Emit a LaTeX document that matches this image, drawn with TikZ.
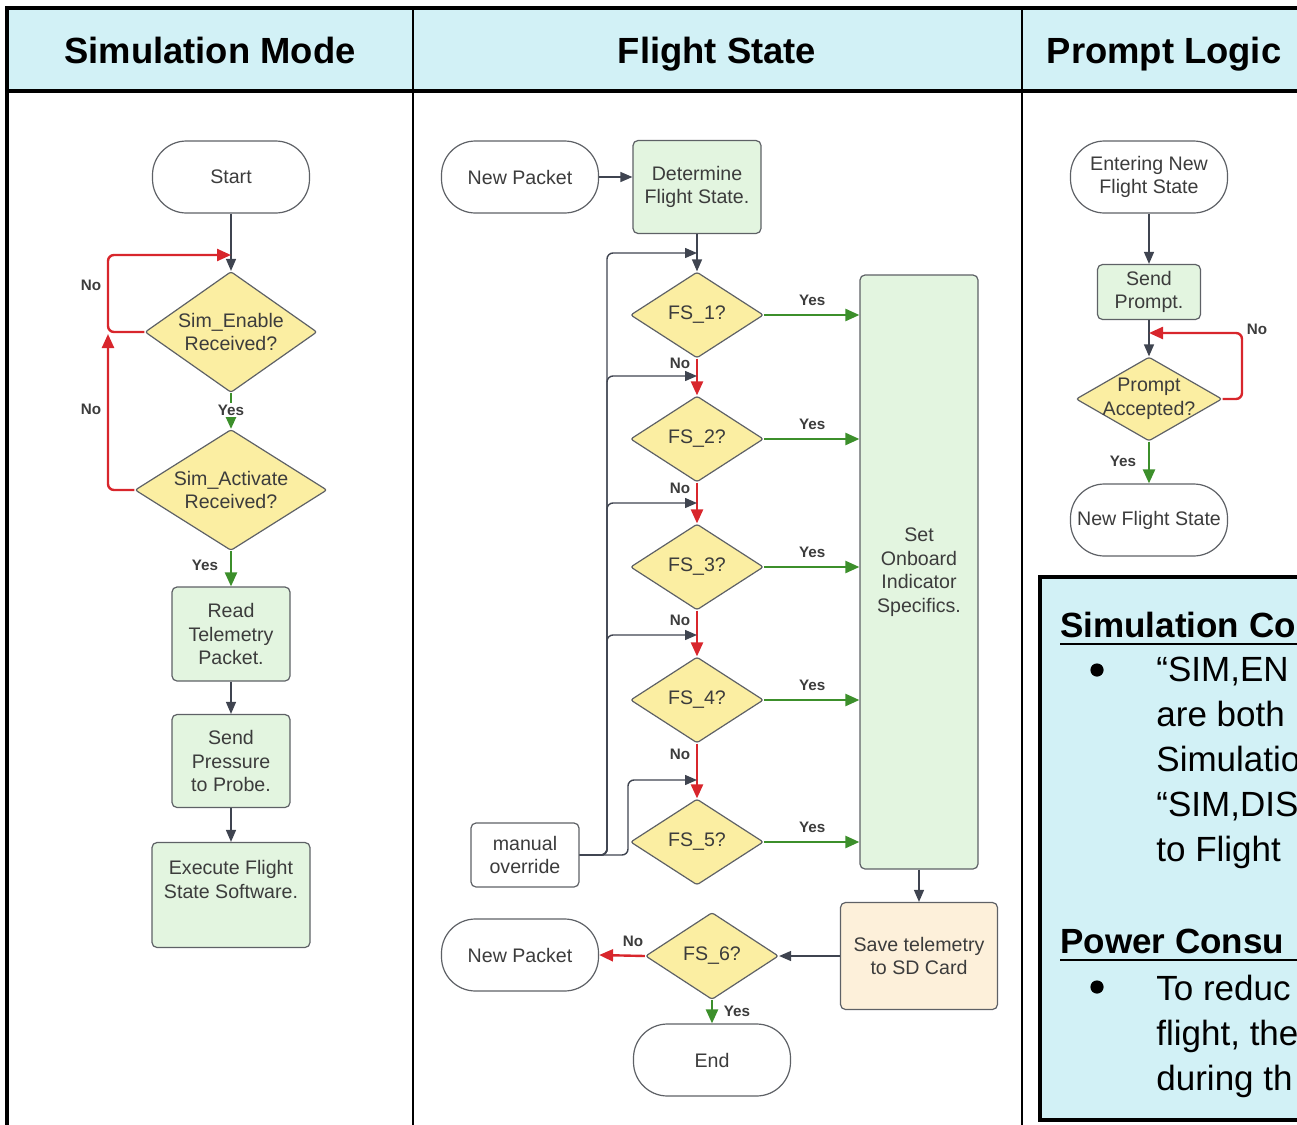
\documentclass[tikz,border=0pt]{standalone}
\usepackage{fontspec}
\setmainfont{Liberation Sans}
\usetikzlibrary{shapes.geometric,arrows.meta}
\definecolor{hdr}{HTML}{D2F1F6}
\definecolor{procfill}{HTML}{E3F5E0}
\definecolor{decfill}{HTML}{FBEEA2}
\definecolor{savefill}{HTML}{FDF0DA}
\definecolor{redl}{HTML}{D8262C}
\definecolor{greenl}{HTML}{3C8F2B}
\definecolor{grayl}{HTML}{3F4450}
\definecolor{txt}{HTML}{3C3C3C}
\definecolor{bord}{HTML}{5E6166}
\tikzset{
  ntext/.style={font=\fontsize{9.8}{11.8}\selectfont, text=txt, align=center},
  term/.style={ntext, draw=bord, line width=0.6pt, rounded corners=17pt, minimum width=78.5pt, minimum height=36pt, fill=white, inner sep=1pt},
  proc/.style={ntext, draw=bord, line width=0.6pt, rounded corners=2.5pt, fill=procfill, inner sep=1pt},
  dia/.style={shape=diamond, draw=bord, line width=0.6pt, fill=decfill, inner sep=0pt, rounded corners=1.2pt},
  garrow/.style={draw=grayl, line width=0.7pt, -{Triangle[length=6pt,width=5pt]}},
  rarrow/.style={draw=redl, line width=1.2pt, -{Triangle[length=7pt,width=6pt]}},
  yarrow/.style={draw=greenl, line width=1.2pt, -{Triangle[length=7pt,width=6pt]}},
  lbl/.style={font=\bfseries\fontsize{7.6}{9}\selectfont, text=txt, inner sep=1pt},
  head/.style={font=\bfseries\fontsize{18.2}{22}\selectfont, text=black, anchor=base},
  note/.style={font=\fontsize{17.5}{22.5}\selectfont, text=black, anchor=base west, inner sep=0pt},
  noteh/.style={font=\bfseries\fontsize{17.5}{22.5}\selectfont, text=black, anchor=base west, inner sep=0pt},
}
\begin{document}
\begin{tikzpicture}[x=0.5pt,y=-0.5pt]
\useasboundingbox (0,0) rectangle (1297,1125);
\begin{scope}
\clip (0,0) rectangle (1297,1125);
% table
\fill[hdr] (7,8) rectangle (1310,91);
\draw[line width=2pt] (1310,8) -- (7,8) -- (7,1140);
\draw[line width=1.6pt] (7,91) -- (1310,91);
\draw[line width=1.3pt] (413,8) -- (413,1140);
\draw[line width=1.3pt] (1022,8) -- (1022,1140);
\node[head] (h1) at (210,63) {Simulation Mode};
\node[head] (h2) at (717,63) {Flight State};
\node[head] (h3) at (1164,63) {Prompt Logic};

% ---- Simulation Mode ----
\node[term] (start) at (231,177) {Start};
\node[dia, minimum width=86pt, minimum height=60.5pt] (se) at (231,332) {};
\node[ntext] (set1) at (se.center) {Sim\_Enable\\Received?};
\node[dia, minimum width=96pt, minimum height=60.5pt] (sa) at (231,490) {};
\node[ntext] (sat) at (sa.center) {Sim\_Activate\\Received?};
\node[proc, minimum width=59pt, minimum height=47pt] (read) at (231,634) {Read\\Telemetry\\Packet.};
\node[proc, minimum width=59pt, minimum height=46.5pt] (send) at (231,761) {Send\\Pressure\\to Probe.};
\node[proc, minimum width=79pt, minimum height=52.5pt] (exec) at (231,895) {Execute Flight\\State Software.\\[4pt]};
\coordinate (j1) at (231,255);
\coordinate (j2) at (108,334);
\draw[garrow] (start.south) -- (se.north);
\draw[rarrow, rounded corners=3pt] (se.west) -- (108,332) -- (108,255) -- (j1);
\draw[rarrow, rounded corners=3pt] (sa.west) -- (108,490) -- (j2);
\draw[yarrow] (se.south) -- (sa.north);
\draw[yarrow] (sa.south) -- (read.north);
\draw[garrow] (read.south) -- (send.north);
\draw[garrow] (send.south) -- (exec.north);
\node[lbl] (l1) at (91,285) {No};
\node[lbl] (l2) at (91,409) {No};
\node[lbl, fill=white] (l3) at (231,410) {Yes};
\node[lbl] (l4) at (205,565) {Yes};

% ---- Flight State ----
\node[term] (np1) at (520,177) {New Packet};
\node[proc, minimum width=64pt, minimum height=46.5pt] (det) at (697,187) {Determine\\Flight State.};
\foreach \i/\y in {1/315,2/439,3/567,4/700,5/842}{
  \node[dia, minimum width=66.5pt, minimum height=43pt] (fs\i) at (697,\y) {};
  \node[ntext] (fst\i) at (fs\i.center) {FS\_\i?};
}
\node[proc, minimum width=59pt, minimum height=297pt] (set) at (919,572) {Set\\Onboard\\Indicator\\Specifics.};
\node[ntext, draw=bord, line width=0.6pt, rounded corners=2.5pt, fill=white, minimum width=54pt, minimum height=32pt, inner sep=1pt] (man) at (525,855) {manual\\override};
\node[ntext, draw=bord, line width=0.6pt, rounded corners=2.5pt, fill=savefill, minimum width=78.5pt, minimum height=53.5pt, inner sep=1pt] (save) at (919,956) {Save telemetry\\to SD Card};
\node[dia, minimum width=66.5pt, minimum height=43.5pt] (fs6) at (712,956) {};
\node[ntext] (fst6) at (fs6.center) {FS\_6?};
\node[term] (np2) at (520,955) {New Packet};
\node[term] (end) at (712,1060) {End};

\draw[garrow] (np1.east) -- (det.west |- np1.east);
\draw[garrow] (det.south) -- (fs1.north);
\foreach \a/\b in {1/2,2/3,3/4,4/5}{
  \draw[rarrow] (fs\a.south) -- (fs\b.north);
}
\foreach \i in {1,...,5}{
  \draw[yarrow] (fs\i.east) -- (set.west |- fs\i.east);
  \node[lbl] (yl\i) at ([xshift=24pt,yshift=7.5pt]fs\i.east) {Yes};
}
\node[lbl] (nl1) at (680,363) {No};
\node[lbl] (nl2) at (680,488) {No};
\node[lbl] (nl3) at (680,620) {No};
\node[lbl] (nl4) at (680,754) {No};

\coordinate (k0) at (697,253);
\coordinate (k1) at (697,376);
\coordinate (k2) at (697,503);
\coordinate (k3) at (697,635);
\coordinate (k4) at (697,780);
\draw[garrow, rounded corners=3pt] (man.east) -- (607,855) -- (607,253) -- (k0);
\draw[garrow, rounded corners=3pt] (man.east) -- (607,855) -- (607,376) -- (k1);
\draw[garrow, rounded corners=3pt] (man.east) -- (607,855) -- (607,503) -- (k2);
\draw[garrow, rounded corners=3pt] (man.east) -- (607,855) -- (607,635) -- (k3);
\draw[garrow, rounded corners=3pt] (man.east) -- (628,855) -- (628,780) -- (k4);

\draw[garrow] (set.south) -- (save.north);
\draw[garrow] (save.west) -- (fs6.east);
\draw[rarrow] (fs6.west) -- (np2.east);
\draw[yarrow] (fs6.south) -- (end.north);
\node[lbl] (nl6) at (633,941) {No};
\node[lbl] (yl6) at (737,1011) {Yes};

% ---- Prompt Logic ----
\node[term] (ent) at (1149,177) {Entering New\\Flight State};
\node[proc, minimum width=51.5pt, minimum height=27.5pt] (sp) at (1149,292) {Send\\Prompt.};
\node[dia, minimum width=73pt, minimum height=42pt] (pa) at (1149,399) {};
\node[ntext] (pat) at (pa.center) {Prompt\\Accepted?};
\node[term] (nfs) at (1149,520) {New Flight State};
\coordinate (j3) at (1149,333);
\draw[garrow] (ent.south) -- (sp.north);
\draw[garrow] (sp.south) -- (pa.north);
\draw[rarrow, rounded corners=3pt] (pa.east) -- (1242,399) -- (1242,333) -- (j3);
\draw[yarrow] (pa.south) -- (nfs.north);
\node[lbl] (pl1) at (1257,329) {No};
\node[lbl] (pl2) at (1123,461) {Yes};

% ---- Notes ----
\draw[fill=hdr, line width=1.6pt] (1040,577) rectangle (1320,1120);
\node[noteh] (n1) at (1060,637) {Simulation Co};
\draw[line width=1.1pt] ([yshift=-3.5pt]n1.base west) -- ++(270,0);
\fill (1097,670) circle (3.3pt);
\node[note] (n2) at (1156,681) {“SIM,EN};
\node[note] (n3) at (1156,726) {are both};
\node[note] (n4) at (1156,771) {Simulatio};
\node[note] (n5) at (1156,816) {“SIM,DIS};
\node[note] (n6) at (1156,861) {to Flight};
\node[noteh] (n7) at (1060,953) {Power Consu};
\draw[line width=1.1pt] ([yshift=-3.5pt]n7.base west) -- ++(270,0);
\fill (1097,987) circle (3.3pt);
\node[note] (n8) at (1156,1000) {To reduc};
\node[note] (n9) at (1156,1045) {flight, the};
\node[note] (n10) at (1156,1090) {during th};
\end{scope}
\end{tikzpicture}
\end{document}
